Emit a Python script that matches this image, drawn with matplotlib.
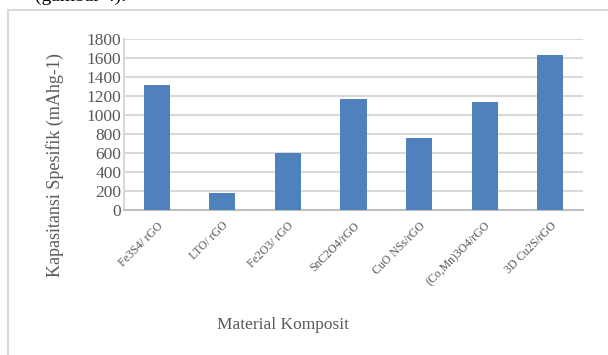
import matplotlib
matplotlib.use("Agg")
import matplotlib.pyplot as plt
import numpy as np
from matplotlib.lines import Line2D

# --------------------------------------------------
# DATA
# --------------------------------------------------
materials = ["Fe3S4/ rGO", "LTO/ rGO", "Fe2O3/ rGO", "SnC2O4/rGO",
             "CuO NSs/rGO", "(Co,Mn)3O4/rGO", "3D Cu2S/rGO"]
capacity = [1320, 175, 600, 1165, 755, 1140, 1630]
y_ticks = [0, 200, 400, 600, 800, 1000, 1200, 1400, 1600, 1800]

BAR_COLOR = "#4f81bd"
TEXT_COLOR = "#595959"
GRID_COLOR = "#d9d9d9"
W, H = 608, 355

plt.rcParams["font.family"] = ["Liberation Serif", "DejaVu Serif"]

fig = plt.figure(figsize=(W / 100, H / 100), dpi=100)
fig.patch.set_facecolor("white")

# document text cut off at the top (as in the screenshot)
fig.text(35 / W, 1 - 1 / H, "(gambar 4).", fontsize=14, color="black",
         ha="left", va="baseline")

# chart frame (extends past the right and bottom edges)
fig.add_artist(Line2D([7.5 / W, 7.5 / W], [1 - 10 / H, 0], color=GRID_COLOR,
                      lw=1.5, transform=fig.transFigure))
fig.add_artist(Line2D([7.5 / W, 1], [1 - 10 / H, 1 - 10 / H], color=GRID_COLOR,
                      lw=1.5, transform=fig.transFigure))

ax = fig.add_axes([124 / W, 1 - 210 / H, (583 - 124) / W, (210 - 39) / H])
x = np.arange(len(materials))
ax.bar(x, capacity, width=0.4, color=BAR_COLOR, zorder=3)

ax.set_xlim(-0.5, len(materials) - 0.5)
ax.set_ylim(0, 1800)
ax.set_yticks(y_ticks)
ax.set_yticklabels([str(v) for v in y_ticks], fontsize=12.5, color=TEXT_COLOR)
ax.set_xticks(x)
ax.set_xticklabels(materials, rotation=45, ha="right", rotation_mode="anchor",
                   fontsize=8.5, color=TEXT_COLOR)
ax.tick_params(axis="both", length=0)
ax.tick_params(axis="y", pad=2)
ax.tick_params(axis="x", pad=7)

ax.grid(axis="y", color=GRID_COLOR, lw=1.5, zorder=0)
for side in ["top", "right"]:
    ax.spines[side].set_visible(False)
ax.spines["left"].set_color(GRID_COLOR)
ax.spines["left"].set_linewidth(1.5)
ax.spines["bottom"].set_color("#bfbfbf")
ax.spines["bottom"].set_linewidth(1.5)

fig.text(55 / W, 1 - 165 / H, "Kapasitansi Spesifik (mAhg-1)", rotation=90,
         fontsize=13, color=TEXT_COLOR, ha="center", va="center")
fig.text(283 / W, 1 - 325 / H, "Material Komposit", fontsize=12.5,
         color=TEXT_COLOR, ha="center", va="center")

fig.savefig("out.png", dpi=100)
